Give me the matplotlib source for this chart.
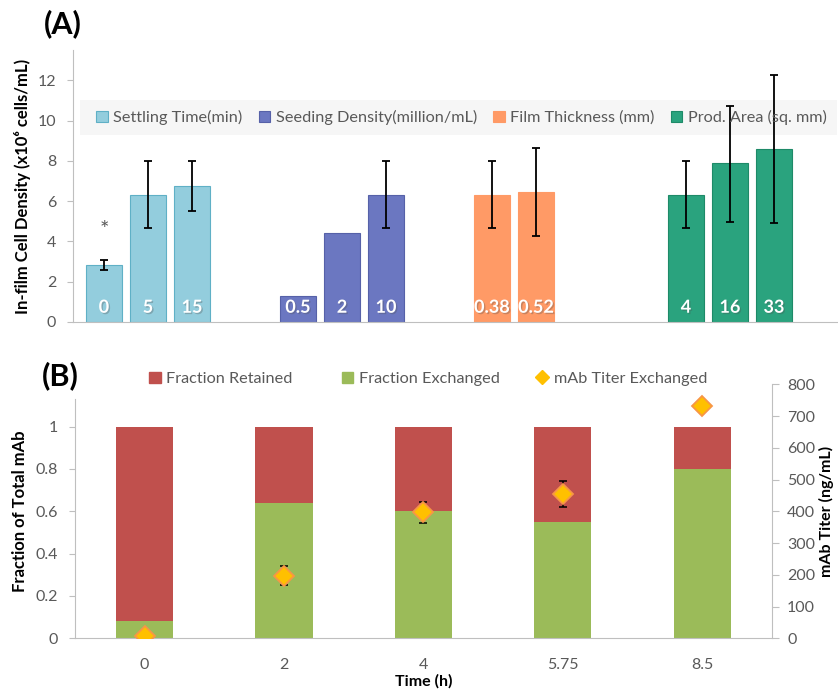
import numpy as np
import matplotlib.pyplot as plt
from matplotlib.patches import Rectangle
from matplotlib.lines import Line2D
import matplotlib.patheffects as pe

plt.rcParams['font.family'] = ['Lato', 'DejaVu Sans']

# (A) in-film cell density for each tested parameter
groups = ['Settling Time(min)', 'Seeding Density(million/mL)',
          'Film Thickness (mm)', 'Prod. Area (sq. mm)']
bar_labels = [['0', '5', '15'], ['0.5', '2', '10'], ['0.38', '0.52'], ['4', '16', '33']]
density = [[2.84, 6.32, 6.74], [1.28, 4.42, 6.32], [6.32, 6.46], [6.32, 7.88, 8.60]]
density_low = [[2.57, 4.65, 5.53], [np.nan, np.nan, 4.65], [4.65, 4.27], [4.65, 4.96, 4.91]]
density_high = [[3.08, 7.98, 7.98], [np.nan, np.nan, 7.98], [7.98, 8.65], [7.98, 10.72, 12.25]]
group_colors = ['#93CDDD', '#6B77C1', '#FF9A66', '#2AA37E']
group_edges = ['#5FB0C6', '#5661A8', '#FF9A66', '#1E8A68']

# (B) mAb distribution over time
times = ['0', '2', '4', '5.75', '8.5']
frac_exchanged = [0.08, 0.64, 0.60, 0.55, 0.80]
frac_retained = [0.92, 0.36, 0.40, 0.45, 0.20]
titer = [8, 196, 397, 455, 733]
titer_low = [np.nan, 168, 362, 415, np.nan]
titer_high = [np.nan, 227, 430, 496, np.nan]

axis_gray = '#BFBFBF'
text_gray = '#595959'
tick_fs = 11.5
legend_fs = 11.7
label_fs = 12

fig = plt.figure(figsize=(8.38, 6.89), dpi=100)

# ---------- panel A ----------
axA = fig.add_axes([0.087, 0.533, 0.913, 0.394])
slot = 0.227
width = 0.186
for g in range(len(groups)):
    n = len(density[g])
    for i in range(n):
        x = g + (i - 1) * slot
        v = density[g][i]
        axA.bar(x, v, width, color=group_colors[g], edgecolor=group_edges[g],
                linewidth=0.8, zorder=2, label=groups[g] if i == 0 else None)
        lo, hi = density_low[g][i], density_high[g][i]
        if not np.isnan(lo):
            axA.errorbar(x, v, yerr=[[v - lo], [hi - v]], fmt='none', ecolor='black',
                         elinewidth=1.3, capsize=3, capthick=1.3, zorder=3)
        axA.text(x, 0.3, bar_labels[g][i], color='white', fontsize=13,
                 fontweight='bold', ha='center', va='bottom', zorder=4,
                 path_effects=[pe.withSimplePatchShadow(offset=(1, -1), alpha=0.3)])

# significance mark above the first bar
axA.text(0 - slot, density_high[0][0] + 1.5, '*', ha='center', va='center',
         fontsize=16, color=text_gray)

axA.set_xlim(-0.387, 3.557)
axA.set_ylim(0, 13.5)
axA.set_yticks(np.arange(0, 13, 2))
axA.set_xticks([])
for s in ['top', 'right']:
    axA.spines[s].set_visible(False)
for s in ['left', 'bottom']:
    axA.spines[s].set_color(axis_gray)
axA.tick_params(axis='y', colors=axis_gray, labelcolor=text_gray, labelsize=tick_fs,
                length=4, pad=8)
axA.set_ylabel('In-film Cell Density (x10⁶ cells/mL)', fontsize=label_fs, fontweight='bold',
               color='black', labelpad=5)

# light band behind the legend
axA.add_patch(Rectangle((0.009, 0.688), 0.99, 0.128, transform=axA.transAxes,
                        facecolor='#F6F6F6', edgecolor='none', zorder=0.5))
axA.legend(loc='center', bbox_to_anchor=(0.508, 0.752), ncol=4, frameon=False,
           fontsize=legend_fs, handlelength=0.7, handleheight=0.7, handletextpad=0.35,
           columnspacing=1.0, labelcolor=text_gray)

fig.text(0.052, 0.965, '(A)', fontsize=22, fontweight='bold', va='center', ha='left')

# ---------- panel B ----------
axB = fig.add_axes([0.0895, 0.0736, 0.8315, 0.3686])
xb = np.arange(len(times))
axB.bar(xb, frac_exchanged, 0.41, color='#9BBB59', zorder=2, label='Fraction Exchanged')
axB.bar(xb, frac_retained, 0.41, bottom=frac_exchanged, color='#C0504D', zorder=2,
        label='Fraction Retained')
axB.set_xlim(-0.5, 4.5)
axB.set_ylim(0, 1.2)
axB.set_yticks(np.arange(0, 1.01, 0.2))
axB.set_yticklabels(['0', '0.2', '0.4', '0.6', '0.8', '1'])
axB.set_xticks(xb)
axB.set_xticklabels(times)
axB.tick_params(axis='x', length=0, labelcolor=text_gray, labelsize=tick_fs, pad=14)
axB.tick_params(axis='y', colors=axis_gray, labelcolor=text_gray, labelsize=tick_fs,
                length=4, pad=8)
axB.spines['top'].set_visible(False)
axB.spines['right'].set_visible(False)
for s in ['left', 'bottom']:
    axB.spines[s].set_color(axis_gray)
axB.spines['left'].set_bounds(0, 1.13)
axB.set_ylabel('Fraction of Total mAb', fontsize=label_fs, fontweight='bold', labelpad=6)
axB.set_xlabel('Time (h)', fontsize=label_fs - 0.5, fontweight='bold', labelpad=2)

axT = axB.twinx()
axT.set_ylim(0, 800)
axT.set_yticks(np.arange(0, 801, 100))
t = np.array(titer, dtype=float)
axT.errorbar(xb, t, yerr=[t - np.array(titer_low), np.array(titer_high) - t], fmt='none',
             ecolor='black', elinewidth=1.1, capsize=3, capthick=1.1, zorder=3)
axT.plot(xb, t, 'D', markersize=10, markerfacecolor='#FFC000', markeredgecolor='#F79646',
         markeredgewidth=1.3, linestyle='none', zorder=4)
for s in ['top', 'left', 'bottom']:
    axT.spines[s].set_visible(False)
axT.spines['right'].set_color(axis_gray)
axT.tick_params(axis='y', colors=axis_gray, labelcolor=text_gray, labelsize=tick_fs,
                length=5, pad=6)
axT.set_ylabel('mAb Titer (ng/mL)', fontsize=label_fs - 0.5, fontweight='bold', labelpad=3)

# legend above panel B: bars on the left, titer marker on the right
leg_kw = dict(frameon=False, fontsize=legend_fs, handlelength=0.7, handleheight=0.7,
              handletextpad=0.35, labelcolor=text_gray)
bar_handles = [Rectangle((0, 0), 1, 1, color='#C0504D'),
               Rectangle((0, 0), 1, 1, color='#9BBB59')]
leg_bars = axT.legend(bar_handles, ['Fraction Retained', 'Fraction Exchanged'],
                      loc='center', bbox_to_anchor=(0.358, 1.021), ncol=2,
                      columnspacing=3.0, **leg_kw)
axT.add_artist(leg_bars)
diamond = Line2D([], [], marker='D', linestyle='none', markersize=7,
                 markerfacecolor='#FFC000', markeredgecolor='#FFC000')
axT.legend([diamond], ['mAb Titer Exchanged'], loc='center right',
           bbox_to_anchor=(0.928, 1.021), **leg_kw)

fig.text(0.05, 0.455, '(B)', fontsize=22, fontweight='bold', va='center', ha='left')

fig.savefig('out.png', dpi=100)
